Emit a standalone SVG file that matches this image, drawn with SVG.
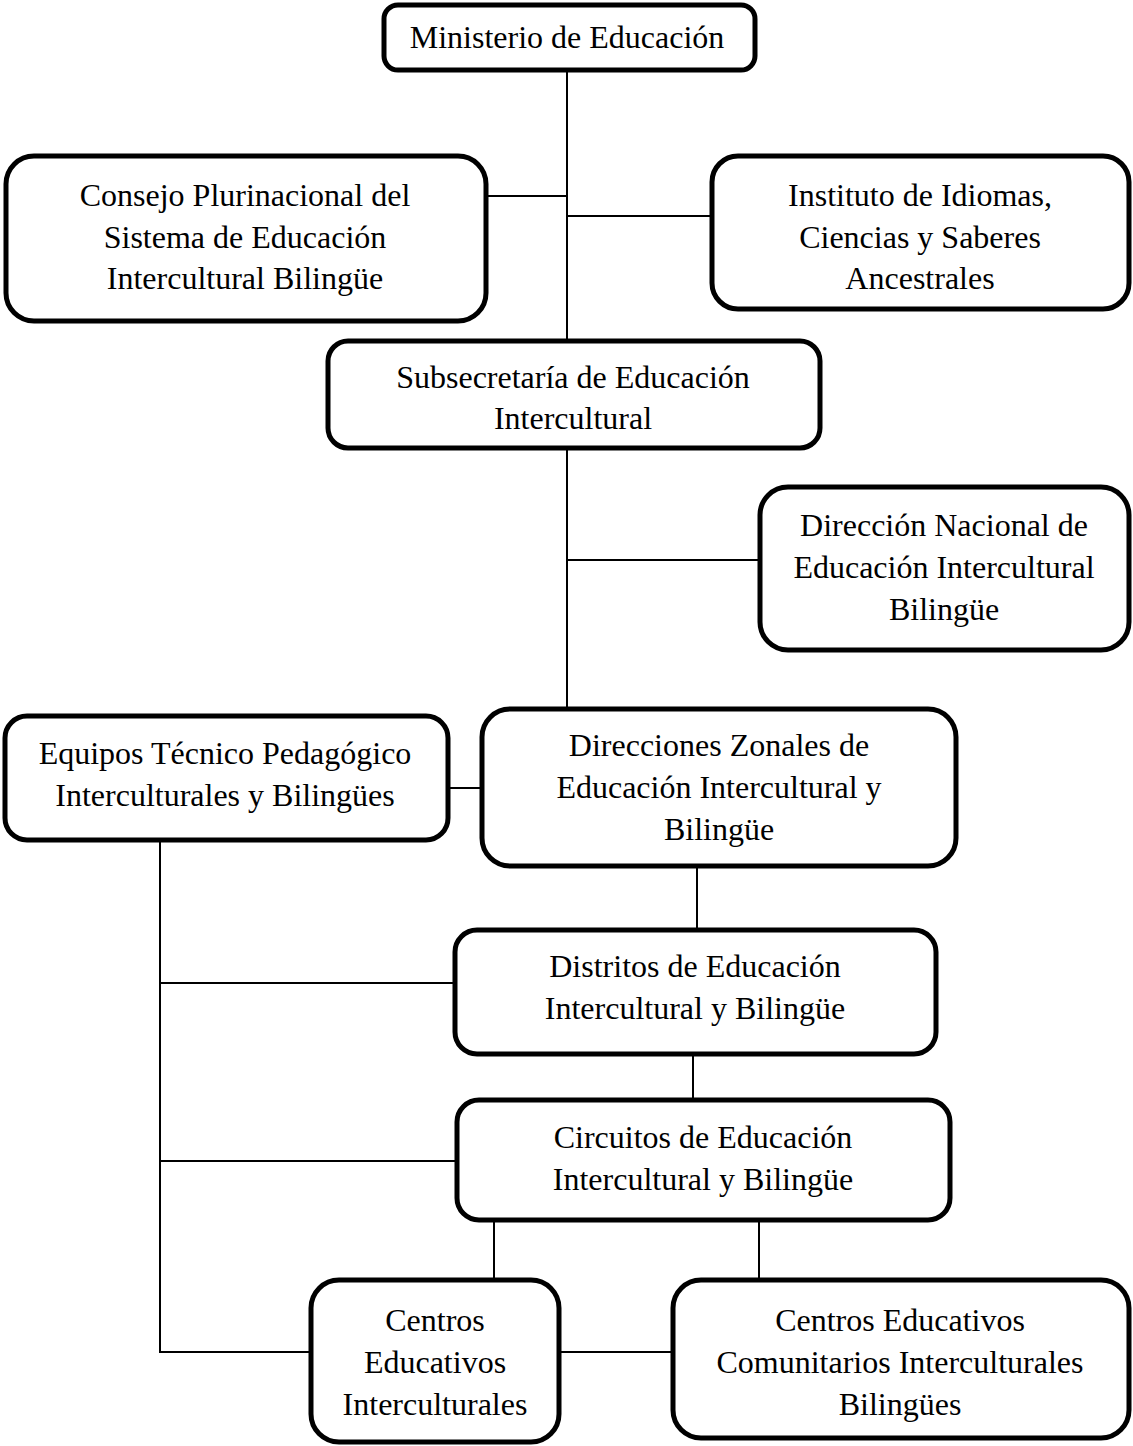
<svg xmlns="http://www.w3.org/2000/svg" width="1133" height="1446" viewBox="0 0 1133 1446">
<style>
.box{fill:#fff;stroke:#000;stroke-width:5}
.t{font-family:"Liberation Serif","Times New Roman",serif;font-size:32px;fill:#000;text-anchor:middle}
.c{stroke:#000;stroke-width:2;fill:none}
</style>
<rect width="1133" height="1446" fill="#fff"/>
<g id="connectors">
<path class="c" d="M567 70V341"/>
<path class="c" d="M486 196H567"/>
<path class="c" d="M567 216H712"/>
<path class="c" d="M567 448V709"/>
<path class="c" d="M567 560H760"/>
<path class="c" d="M448 788H482"/>
<path class="c" d="M697 866V930"/>
<path class="c" d="M693 1054V1100"/>
<path class="c" d="M494 1220V1280"/>
<path class="c" d="M759 1220V1280"/>
<path class="c" d="M160 840V1352H311"/>
<path class="c" d="M160 983H455"/>
<path class="c" d="M160 1161H457"/>
<path class="c" d="M559 1352H673"/>
</g>
<g id="ministerio">
<rect class="box" x="384" y="5" width="371" height="65" rx="14"/>
<text class="t" x="567" y="48">Ministerio de Educación</text>
</g>
<g id="consejo">
<rect class="box" x="6" y="156" width="480" height="165" rx="28"/>
<text class="t" x="245" y="206">Consejo Plurinacional del</text>
<text class="t" x="245" y="248">Sistema de Educación</text>
<text class="t" x="245" y="289">Intercultural Bilingüe</text>
</g>
<g id="instituto">
<rect class="box" x="712" y="156" width="417" height="153" rx="26"/>
<text class="t" x="920" y="206">Instituto de Idiomas,</text>
<text class="t" x="920" y="248">Ciencias y Saberes</text>
<text class="t" x="920" y="289">Ancestrales</text>
</g>
<g id="subsecretaria">
<rect class="box" x="328" y="341" width="492" height="107" rx="20"/>
<text class="t" x="573" y="388">Subsecretaría de Educación</text>
<text class="t" x="573" y="429">Intercultural</text>
</g>
<g id="direccion-nacional">
<rect class="box" x="760" y="487" width="369" height="163" rx="28"/>
<text class="t" x="944" y="536">Dirección Nacional de</text>
<text class="t" x="944" y="578">Educación Intercultural</text>
<text class="t" x="944" y="620">Bilingüe</text>
</g>
<g id="equipos">
<rect class="box" x="5" y="716" width="443" height="124" rx="22"/>
<text class="t" x="225" y="764">Equipos Técnico Pedagógico</text>
<text class="t" x="225" y="806">Interculturales y Bilingües</text>
</g>
<g id="direcciones-zonales">
<rect class="box" x="482" y="709" width="474" height="157" rx="28"/>
<text class="t" x="719" y="756">Direcciones Zonales de</text>
<text class="t" x="719" y="798">Educación Intercultural y</text>
<text class="t" x="719" y="840">Bilingüe</text>
</g>
<g id="distritos">
<rect class="box" x="455" y="930" width="481" height="124" rx="22"/>
<text class="t" x="695" y="977">Distritos de Educación</text>
<text class="t" x="695" y="1019">Intercultural y Bilingüe</text>
</g>
<g id="circuitos">
<rect class="box" x="457" y="1100" width="493" height="120" rx="22"/>
<text class="t" x="703" y="1148">Circuitos de Educación</text>
<text class="t" x="703" y="1190">Intercultural y Bilingüe</text>
</g>
<g id="centros">
<rect class="box" x="311" y="1280" width="248" height="162" rx="28"/>
<text class="t" x="435" y="1331">Centros</text>
<text class="t" x="435" y="1373">Educativos</text>
<text class="t" x="435" y="1415">Interculturales</text>
</g>
<g id="centros-comunitarios">
<rect class="box" x="673" y="1280" width="456" height="158" rx="28"/>
<text class="t" x="900" y="1331">Centros Educativos</text>
<text class="t" x="900" y="1373">Comunitarios Interculturales</text>
<text class="t" x="900" y="1415">Bilingües</text>
</g>
</svg>
